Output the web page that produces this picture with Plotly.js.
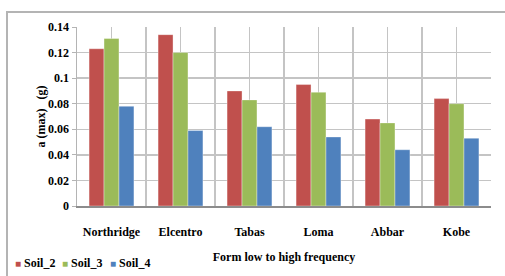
<!DOCTYPE html>
<html>
<head>
<meta charset="utf-8">
<script src="https://cdn.plot.ly/plotly-3.0.1.min.js"></script>
<style>
html,body{margin:0;padding:0;background:#fff;overflow:hidden;}
#frame{position:absolute;left:6px;top:11px;width:520px;height:300px;border:2px solid #b4b4b4;box-sizing:border-box;}
#chart{position:absolute;left:0;top:0;width:505px;height:276px;}
</style>
</head>
<body>
<div id="frame"></div>
<div id="chart"></div>
<script>
const categories = ["Northridge", "Elcentro", "Tabas", "Loma", "Abbar", "Kobe"];
const soil2 = [0.123, 0.134, 0.090, 0.095, 0.068, 0.084];
const soil3 = [0.131, 0.120, 0.083, 0.089, 0.065, 0.080];
const soil4 = [0.078, 0.059, 0.062, 0.054, 0.044, 0.053];
const seriesNames = ["Soil_2", "Soil_3", "Soil_4"];
const colors = ["#C0504D", "#9BBB59", "#4F81BD"];

const pos = categories.map((c, i) => i);
const fam = "Liberation Serif, Times New Roman, serif";
const bold = {family: fam, size: 12, color: "#000", weight: "bold"};

const traces = [soil2, soil3, soil4].map((vals, k) => ({
  type: "bar",
  x: pos,
  y: vals,
  name: seriesNames[k],
  marker: {color: colors[k], line: {color: "rgba(255,255,255,0.35)", width: 1}}
}));

const legendX = [13, 60, 108];
const annotations = seriesNames.map((n, k) => ({
  xref: "paper", yref: "paper",
  x: (legendX[k] - 77) / 414, y: (206 - 263) / 179,
  xanchor: "left", yanchor: "middle",
  showarrow: false,
  text: "<span style='color:" + colors[k] + ";font-size:10px'>■</span> " + n,
  font: {family: fam, size: 12, color: "#000", weight: "bold"}
}));

const layout = {
  width: 505, height: 276,
  margin: {l: 77, r: 14, t: 27, b: 70, autoexpand: false},
  paper_bgcolor: "rgba(0,0,0,0)",
  plot_bgcolor: "#fff",
  barmode: "group",
  bargap: 0.35,
  bargroupgap: 0,
  font: {family: fam, size: 12, color: "#000"},
  showlegend: false,
  annotations: annotations,
  xaxis: {
    range: [-0.5, 5.5],
    tickmode: "array",
    tickvals: pos,
    ticktext: categories,
    tickfont: bold,
    showgrid: true, gridcolor: "#c4c4c4", gridwidth: 1.5,
    minor: {tick0: 0.5, dtick: 1, showgrid: true, gridcolor: "#c4c4c4", gridwidth: 1.5},
    showline: true, linecolor: "#8c8c8c", linewidth: 1.5,
    zeroline: false, ticks: "", ticklabelstandoff: 14,
    title: {text: "Form low to high frequency", font: bold, standoff: 14}
  },
  yaxis: {
    range: [0, 0.14],
    dtick: 0.02,
    tickfont: bold,
    showgrid: true, gridcolor: "#c4c4c4", gridwidth: 1.5,
    showline: true, linecolor: "#b4b4b4", linewidth: 1.5,
    zeroline: false, ticks: "outside", ticklen: 4, tickcolor: "#b4b4b4",
    title: {text: "a (max)&nbsp;&nbsp; (g)", font: bold, standoff: 0}
  }
};

Plotly.newPlot("chart", traces, layout, {displayModeBar: false, staticPlot: true});
</script>
</body>
</html>
